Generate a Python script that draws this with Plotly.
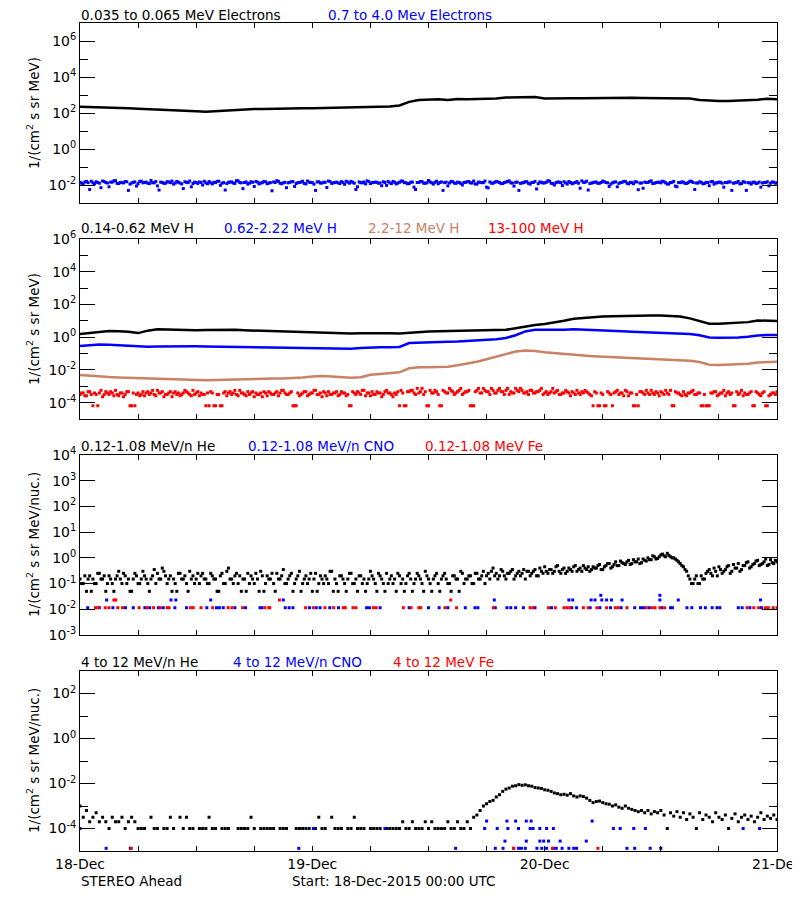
import numpy as np
import pandas as pd
import plotly.graph_objects as go

START = "2015-12-18 00:00"
END = "2015-12-21 00:00"
FONT = "DejaVu Sans"
BLUE = "#0000FF"
RED = "#FF0000"
BROWN = "#C98264"

# ---------------- Panel 1: electrons ----------------
# hourly log10 flux, 0.035-0.065 MeV electrons
e_low_log = [2.35, 2.34, 2.33, 2.32, 2.30, 2.26, 2.23, 2.21, 2.20, 2.20,
             2.18, 2.16, 2.10, 2.07, 2.10, 2.15, 2.18, 2.21, 2.22, 2.22,
             2.24, 2.26, 2.26, 2.27, 2.27, 2.28, 2.30, 2.29, 2.30, 2.31,
             2.32, 2.33, 2.36, 2.42, 2.62, 2.72, 2.74, 2.76, 2.72, 2.78,
             2.77, 2.78, 2.78, 2.80, 2.86, 2.88, 2.90, 2.89, 2.80, 2.82,
             2.81, 2.82, 2.82, 2.83, 2.84, 2.86, 2.86, 2.85, 2.84, 2.83,
             2.84, 2.84, 2.83, 2.80, 2.72, 2.68, 2.66, 2.67, 2.69, 2.70,
             2.74, 2.79, 2.76]
# log10 flux, 0.7-4.0 MeV electrons; "a" on the hour and every 20 min, "b" 10 min later
e_high_log_a = [-1.85, -1.95, -1.80, -2.25, -1.88, -1.82, -1.90, -1.78, -1.86, -2.10, -1.84, -1.76, -1.92, -1.87, -1.81, -2.30, -1.89, -1.83, -1.93, -1.79,
                -1.86, -1.90, -1.75, -1.88, -2.05, -1.84, -1.91, -1.82, -1.87, -1.95, -1.80, -1.89, -2.20, -1.85, -1.78, -1.92, -1.86, -1.83, -2.00, -1.88,
                -1.81, -1.94, -1.87, -1.79, -1.90, -2.28, -1.85, -1.83, -1.91, -1.77, -1.88, -1.86, -1.95, -1.82, -2.08, -1.84, -1.89, -1.80, -1.93, -1.87,
                -1.83, -1.76, -1.90, -1.88, -2.15, -1.85, -1.81, -1.92, -1.86, -1.79, -1.94, -1.84, -1.87, -2.30, -1.82, -1.89, -1.85, -1.78, -1.91, -1.86,
                -1.88, -1.81, -1.96, -1.84, -1.80, -1.90, -2.10, -1.87, -1.83, -1.77, -1.92, -1.86, -1.85, -1.89, -1.82, -2.02, -1.88, -1.80, -1.94, -1.85,
                -1.79, -1.87, -1.92, -1.84, -2.25, -1.86, -1.81, -1.90, -1.75, -1.88, -1.85, -1.93, -1.83, -1.87, -2.05, -1.80, -1.89, -1.84, -1.91, -1.86,
                -1.82, -1.88, -1.78, -1.95, -1.85, -1.87, -2.12, -1.83, -1.90, -1.80, -1.86, -1.92, -1.84, -1.77, -1.89, -1.85, -2.30, -1.88, -1.82, -1.91,
                -1.86, -1.80, -1.93, -1.85, -1.88, -1.76, -1.90, -2.00, -1.84, -1.87, -1.82, -1.95, -1.86, -1.89, -1.81, -2.18, -1.85, -1.79, -1.92, -1.87,
                -1.84, -1.90, -1.78, -1.86, -2.08, -1.88, -1.83, -1.91, -1.85, -1.80, -1.94, -1.87, -1.82, -2.26, -1.89, -1.84, -1.86, -1.77, -1.90, -1.85,
                -1.88, -1.82, -1.95, -1.86, -1.80, -2.10, -1.87, -1.84, -1.91, -1.79, -1.86, -1.89, -1.83, -1.93, -1.85, -2.04, -1.81, -1.88, -1.84, -1.90,
                -1.86, -1.83, -2.30, -1.88, -1.80, -1.92, -1.85, -1.87, -1.95, -1.84, -1.89, -2.12, -1.86, -1.82, -1.90, -1.85, -1.88]
e_high_log_b = [-1.90, -1.83, -1.87, -1.79, -1.93, -1.86, -2.15, -1.81, -1.89, -1.84, -1.77, -1.91, -1.86, -1.88, -1.82, -1.95, -1.85, -2.06, -1.80, -1.88,
                -1.84, -1.92, -1.87, -1.81, -2.28, -1.86, -1.90, -1.83, -1.78, -1.89, -1.85, -1.94, -1.82, -1.87, -2.10, -1.84, -1.91, -1.86, -1.79, -1.93,
                -1.88, -1.85, -1.80, -2.02, -1.87, -1.92, -1.84, -1.89, -1.76, -1.86, -2.20, -1.83, -1.90, -1.85, -1.81, -1.94, -1.87, -1.82, -1.89, -2.32,
                -1.86, -1.80, -1.93, -1.85, -1.88, -1.82, -2.08, -1.87, -1.84, -1.91, -1.78, -1.86, -1.95, -1.83, -1.89, -1.85, -2.14, -1.81, -1.88, -1.84,
                -1.92, -1.86, -1.79, -1.90, -1.85, -2.25, -1.83, -1.88, -1.94, -1.81, -1.87, -1.84, -1.90, -2.04, -1.86, -1.80, -1.92, -1.85, -1.89, -1.78,
                -1.87, -1.93, -1.84, -2.12, -1.86, -1.81, -1.90, -1.88, -1.83, -1.95, -1.79, -1.86, -2.30, -1.84, -1.89, -1.82, -1.91, -1.86, -2.00, -1.85,
                -1.81, -1.89, -1.94, -1.84, -1.87, -1.78, -2.16, -1.90, -1.85, -1.83, -1.92, -1.86, -1.80, -1.88, -2.06, -1.84, -1.91, -1.87, -1.82, -1.95,
                -1.86, -2.22, -1.83, -1.89, -1.85, -1.79, -1.92, -1.87, -1.84, -2.03, -1.88, -1.81, -1.93, -1.86, -1.90, -1.77, -1.85, -2.28, -1.89, -1.84,
                -1.91, -1.86, -1.82, -1.88, -1.95, -1.84, -2.10, -1.87, -1.80, -1.90, -1.85, -1.93, -1.83, -1.89, -2.18, -1.86, -1.81, -1.92, -1.87, -1.84,
                -1.79, -1.88, -1.94, -1.85, -2.06, -1.86, -1.83, -1.91, -1.87, -1.80, -2.25, -1.89, -1.84, -1.92, -1.86, -1.82, -1.95, -1.88, -1.85, -2.12,
                -1.87, -1.83, -1.90, -1.86, -1.94, -1.81, -2.30, -1.88, -1.85, -1.92, -1.84, -1.89, -1.86, -2.05, -1.83, -1.90]

# ---------------- Panel 2: protons (hourly log10) ----------------
h1_log = [0.19, 0.25, 0.32, 0.38, 0.36, 0.33, 0.25, 0.40, 0.48, 0.46,
          0.45, 0.44, 0.43, 0.44, 0.45, 0.46, 0.45, 0.42, 0.40, 0.38,
          0.36, 0.33, 0.31, 0.30, 0.28, 0.27, 0.25, 0.24, 0.23, 0.24,
          0.25, 0.25, 0.24, 0.23, 0.28, 0.33, 0.35, 0.36, 0.37, 0.38,
          0.38, 0.39, 0.41, 0.43, 0.45, 0.55, 0.66, 0.75, 0.80, 0.88,
          1.00, 1.12, 1.18, 1.23, 1.26, 1.28, 1.30, 1.31, 1.31, 1.32,
          1.32, 1.31, 1.27, 1.15, 1.00, 0.82, 0.82, 0.86, 0.88, 0.92,
          1.02, 1.02, 0.99]
h2_log = [-0.54, -0.50, -0.44, -0.46, -0.50, -0.53, -0.56, -0.58, -0.57, -0.56,
          -0.56, -0.56, -0.56, -0.57, -0.58, -0.60, -0.61, -0.62, -0.62, -0.63,
          -0.64, -0.66, -0.67, -0.68, -0.69, -0.70, -0.71, -0.72, -0.70, -0.66,
          -0.62, -0.62, -0.62, -0.60, -0.36, -0.33, -0.31, -0.30, -0.28, -0.27,
          -0.24, -0.20, -0.16, -0.12, -0.05, 0.12, 0.35, 0.45, 0.45, 0.44,
          0.46, 0.49, 0.47, 0.45, 0.44, 0.40, 0.36, 0.33, 0.31, 0.29,
          0.27, 0.26, 0.24, 0.20, 0.12, -0.02, -0.03, -0.03, -0.02, 0.02,
          0.10, 0.13, 0.13]
h3_log = [-2.31, -2.36, -2.42, -2.44, -2.47, -2.49, -2.50, -2.52, -2.53, -2.55,
          -2.58, -2.61, -2.64, -2.63, -2.61, -2.59, -2.57, -2.56, -2.55, -2.54,
          -2.53, -2.52, -2.50, -2.46, -2.41, -2.37, -2.40, -2.44, -2.48, -2.45,
          -2.30, -2.25, -2.20, -2.15, -1.90, -1.84, -1.84, -1.83, -1.80, -1.72,
          -1.62, -1.50, -1.35, -1.18, -1.02, -0.88, -0.82, -0.84, -0.92, -0.98,
          -1.03, -1.08, -1.12, -1.16, -1.19, -1.22, -1.25, -1.28, -1.31, -1.34,
          -1.36, -1.38, -1.41, -1.44, -1.52, -1.68, -1.70, -1.68, -1.66, -1.62,
          -1.55, -1.51, -1.50]
# log10 flux, 13-100 MeV H ("a" every 20 min, "b" 10 min later)
h4_log_a = [-3.50, -3.41, -3.58, -3.33, -4.19, -3.50, -3.41, -3.64, -3.33, -3.50, -3.41, -3.25, -3.58, -3.41, -3.50, -3.33, -4.19, -4.19, -3.41, -3.50,
            -3.58, -3.33, -3.41, -3.50, -3.25, -3.41, -3.64, -3.50, -3.33, -3.41, -3.50, -3.58, -3.41, -3.33, -3.50, -3.25, -3.41, -3.58, -3.50, -4.19,
            -4.19, -3.41, -4.19, -3.50, -4.19, -3.33, -3.41, -3.50, -3.25, -3.58, -3.41, -3.50, -3.33, -3.41, -3.64, -3.50, -3.41, -3.33, -3.58, -3.41,
            -3.50, -3.33, -3.41, -3.25, -3.50, -3.41, -4.19, -4.19, -3.58, -3.41, -3.33, -3.50, -3.41, -3.25, -3.50, -3.64, -3.41, -3.33, -3.50, -3.41,
            -3.58, -3.33, -3.41, -3.50, -4.19, -3.41, -3.33, -3.50, -3.25, -3.41, -3.58, -3.50, -3.33, -3.41, -3.50, -3.25, -3.41, -3.64, -3.50, -4.19,
            -3.41, -4.19, -3.33, -3.25, -3.50, -3.41, -3.13, -3.33, -4.19, -3.41, -3.25, -3.50, -4.19, -3.33, -3.41, -3.25, -3.50, -3.33, -3.13, -3.41,
            -3.33, -4.19, -4.19, -3.25, -3.41, -3.13, -3.33, -3.50, -3.25, -3.41, -3.13, -3.33, -3.25, -3.50, -3.41, -3.13, -3.33, -3.25, -3.41, -3.50,
            -3.25, -3.41, -3.33, -3.13, -3.41, -3.50, -3.33, -3.41, -3.25, -3.50, -3.41, -3.33, -3.58, -3.41, -3.25, -3.50, -3.41, -3.33, -3.50, -4.19,
            -3.41, -4.19, -3.50, -4.19, -3.41, -4.19, -3.33, -3.50, -3.41, -3.25, -3.58, -3.41, -4.19, -4.19, -3.33, -3.50, -3.41, -3.25, -3.50, -3.41,
            -3.33, -3.50, -3.41, -3.25, -4.19, -3.41, -3.50, -3.33, -3.58, -3.41, -3.25, -3.50, -3.41, -4.19, -4.19, -4.19, -3.41, -3.33, -3.50, -3.41,
            -3.58, -3.33, -3.41, -4.19, -3.50, -3.25, -3.41, -3.50, -3.33, -4.19, -3.41, -3.58, -3.33, -4.19, -3.50, -3.41, -3.33]
h4_log_b = [-3.41, -3.58, -3.33, -3.50, -3.41, -4.19, -3.25, -3.50, -3.41, -3.33, -3.58, -3.50, -3.41, -3.64, -3.33, -4.19, -3.41, -3.50, -3.58, -3.33,
            -3.41, -3.50, -3.25, -3.58, -3.41, -3.33, -3.50, -3.41, -3.64, -3.33, -3.41, -3.50, -3.25, -3.41, -3.58, -3.50, -3.33, -3.41, -3.50, -3.41,
            -3.33, -4.19, -3.50, -4.19, -3.41, -3.58, -3.33, -3.41, -3.50, -3.25, -3.41, -3.58, -3.50, -3.33, -3.41, -3.50, -3.64, -3.41, -3.33, -3.50,
            -3.41, -3.58, -3.25, -3.41, -3.50, -3.33, -4.19, -3.41, -3.50, -3.33, -3.58, -3.41, -3.25, -3.50, -3.41, -3.33, -3.58, -3.50, -3.41, -3.33,
            -3.50, -3.41, -3.58, -4.19, -3.33, -3.50, -3.41, -3.25, -3.58, -3.41, -3.33, -3.50, -3.41, -3.64, -3.33, -3.41, -3.50, -3.41, -3.33, -3.25,
            -4.19, -3.33, -3.25, -3.41, -3.13, -3.33, -3.50, -4.19, -3.25, -3.41, -3.33, -4.19, -3.25, -3.41, -3.13, -3.33, -3.41, -3.25, -3.50, -3.33,
            -3.25, -4.19, -3.33, -3.13, -3.41, -3.25, -3.33, -3.13, -3.41, -3.25, -3.33, -3.50, -3.13, -3.33, -3.41, -3.25, -3.13, -3.41, -3.33, -3.25,
            -3.41, -3.33, -3.25, -3.50, -3.33, -3.41, -3.13, -3.33, -3.50, -3.41, -3.25, -3.41, -3.33, -3.50, -3.41, -3.33, -3.25, -3.41, -3.58, -3.33,
            -4.19, -3.41, -4.19, -3.33, -3.50, -3.41, -3.25, -3.41, -3.58, -3.33, -3.41, -4.19, -3.50, -3.33, -3.41, -3.25, -3.50, -3.41, -3.33, -3.58,
            -3.41, -3.25, -3.50, -4.19, -3.33, -3.41, -3.58, -3.50, -3.41, -3.33, -3.50, -3.41, -4.19, -3.50, -4.19, -3.41, -3.33, -3.58, -3.41, -3.25,
            -3.41, -3.50, -4.19, -3.33, -3.41, -3.58, -3.50, -3.41, -4.19, -3.33, -3.50, -3.41, -4.19, -3.58, -3.41, -3.50]

# ---------------- Panel 3: 0.12-1.08 MeV/n ----------------
he_low_val_a = [0.15, 0.1, 0.05, 0.2, 0.15, 0.1, 0.25, 0.15, 0.05, 0.2, 0.1, 0.15, 0.3, 0.1, 0.2, 0.15, 0.05, 0.25, 0.1, 0.15,
                0.2, 0.1, 0.15, 0.35, 0.25, 0.15, 0.3, 0.1, 0.2, 0.15, 0.05, 0.25, 0.15, 0.1, 0.3, 0.2, 0.15, 0.1, 0.25, 0.15,
                0.1, 0.2, 0.15, 0.05, 0.25, 0.1, 0.4, 0.15, 0.2, 0.1, 0.05, 0.15, 0.25, 0.2, 0.1, 0.15, 0.3, 0.05, 0.2, 0.15,
                0.1, 0.25, 0.15, 0.35, 0.1, 0.2, 0.05, 0.15, 0.3, 0.1, 0.2, 0.15, 0.05, 0.25, 0.1, 0.15, 0.2, 0.1, 0.3, 0.15,
                0.05, 0.2, 0.1, 0.15, 0.25, 0.1, 0.05, 0.2, 0.15, 0.1, 0.3, 0.15, 0.05, 0.2, 0.1, 0.25, 0.15, 0.1, 0.05, 0.2,
                0.15, 0.1, 0.25, 0.05, 0.15, 0.2, 0.1, 0.3, 0.15, 0.05, 0.2, 0.1, 0.15, 0.25, 0.1, 0.05, 0.2, 0.15, 0.3, 0.1,
                0.15, 0.2, 0.1, 0.25, 0.15, 0.3, 0.2, 0.15, 0.4, 0.25, 0.2, 0.3, 0.15, 0.25, 0.35, 0.2, 0.3, 0.25, 0.15, 0.3,
                0.25, 0.35, 0.2, 0.3, 0.45, 0.25, 0.35, 0.3, 0.5, 0.25, 0.4, 0.3, 0.35, 0.45, 0.3, 0.4, 0.5, 0.35, 0.3, 0.45,
                0.4, 0.55, 0.35, 0.5, 0.6, 0.45, 0.7, 0.5, 0.65, 0.55, 0.8, 0.6, 0.7, 0.9, 0.65, 0.8, 1.0, 0.85, 1.1, 0.95,
                1.3, 1.2, 1.5, 1.1, 1.0, 0.8, 0.6, 0.45, 0.3, 0.15, 0.1, 0.2, 0.1, 0.15, 0.25, 0.35, 0.2, 0.3, 0.45, 0.25,
                0.35, 0.5, 0.3, 0.4, 0.6, 0.35, 0.5, 0.7, 0.45, 0.6, 0.8, 0.55, 0.7, 0.5, 0.85, 0.6, 0.7]
he_low_val_b = [0.1, 0.2, 0.15, 0.05, 0.1, 0.25, 0.15, 0.2, 0.1, 0.15, 0.05, 0.2, 0.15, 0.25, 0.1, 0.05, 0.15, 0.2, 0.1, 0.3,
                0.15, 0.05, 0.2, 0.1, 0.15, 0.4, 0.2, 0.15, 0.05, 0.1, 0.25, 0.15, 0.2, 0.05, 0.15, 0.1, 0.25, 0.2, 0.15, 0.1,
                0.25, 0.15, 0.05, 0.2, 0.1, 0.3, 0.15, 0.1, 0.25, 0.2, 0.15, 0.05, 0.1, 0.15, 0.25, 0.05, 0.2, 0.1, 0.15, 0.25,
                0.05, 0.15, 0.2, 0.1, 0.15, 0.25, 0.1, 0.2, 0.05, 0.15, 0.1, 0.25, 0.15, 0.05, 0.2, 0.1, 0.15, 0.3, 0.05, 0.1,
                0.2, 0.15, 0.05, 0.25, 0.1, 0.15, 0.2, 0.1, 0.05, 0.15, 0.2, 0.1, 0.25, 0.15, 0.05, 0.1, 0.2, 0.15, 0.25, 0.1,
                0.05, 0.2, 0.15, 0.1, 0.25, 0.15, 0.05, 0.2, 0.1, 0.15, 0.25, 0.05, 0.2, 0.15, 0.1, 0.2, 0.15, 0.05, 0.25, 0.15,
                0.2, 0.1, 0.25, 0.15, 0.2, 0.1, 0.25, 0.3, 0.2, 0.15, 0.35, 0.2, 0.25, 0.3, 0.15, 0.25, 0.2, 0.35, 0.3, 0.2,
                0.3, 0.2, 0.4, 0.25, 0.3, 0.35, 0.25, 0.45, 0.3, 0.35, 0.25, 0.4, 0.3, 0.5, 0.35, 0.3, 0.4, 0.45, 0.35, 0.4,
                0.5, 0.35, 0.45, 0.6, 0.4, 0.55, 0.5, 0.75, 0.6, 0.7, 0.55, 0.85, 0.7, 0.6, 0.9, 0.75, 0.85, 1.2, 0.9, 1.1,
                1.4, 1.1, 1.25, 1.0, 0.9, 0.7, 0.5, 0.35, 0.2, 0.1, 0.15, 0.1, 0.2, 0.15, 0.3, 0.25, 0.4, 0.2, 0.35, 0.3,
                0.45, 0.25, 0.55, 0.4, 0.3, 0.5, 0.65, 0.4, 0.55, 0.75, 0.5, 0.6, 0.9, 0.55, 0.65, 0.8]
# hours after start at which CNO / Fe counts appear, by flux level
cno_low_level = 0.0115
cno_low_hours = [0.8, 2.0, 3.4, 4.7, 5.5, 6.7, 7.2, 8.1, 8.6, 9.8, 11.0, 13.1, 14.1, 14.4, 14.8, 16.0, 17.1, 18.6, 18.8,
                 21.2, 21.6, 22.0, 23.7, 24.4, 24.8, 25.8, 26.7, 29.6, 29.9, 31.0, 34.0, 36.0, 37.1, 38.0, 39.8, 40.8,
                 41.1, 42.9, 44.1, 44.5, 45.0, 45.8, 47.0, 48.7, 50.8, 51.3, 52.7, 53.7, 54.8, 55.9, 57.3, 57.9, 58.2,
                 58.8, 60.1, 61.0, 61.2, 62.7, 63.2, 64.1, 64.6, 65.3, 65.8, 66.1, 68.0, 68.4, 69.2, 70.4]
cno_mid_level = 0.023
cno_mid_hours = [2.75, 9.4, 9.9, 13.5, 21.0, 42.8, 50.5, 50.9, 52.8, 53.2, 53.9, 54.4, 54.9, 56.0, 59.9, 61.8, 70.3]
cno_top_level = 0.035
cno_top_hours = [53.8, 59.9]
fe_low_level = 0.0115
fe_low_hours = [1.6, 1.9, 2.6, 3.0, 3.9, 4.4, 6.1, 6.9, 7.6, 8.3, 9.0, 9.2, 11.4, 11.7, 12.5, 13.7, 15.3, 15.7, 16.8,
                19.1, 19.5, 19.6, 23.3, 24.1, 25.3, 26.2, 27.2, 27.4, 28.2, 28.5, 30.3, 30.6, 33.4, 34.2, 35.0, 35.2,
                37.7, 38.9, 42.7, 46.5, 46.8, 48.4, 49.1, 50.0, 50.3, 50.6, 52.0, 52.5, 53.4, 54.4, 55.3, 55.6, 56.5,
                58.5, 59.1, 59.4, 59.9, 60.4, 68.9, 69.6, 70.1, 70.8, 71.1, 71.6, 72.0]
fe_mid_level = 0.023
fe_mid_hours = [3.5, 3.7, 20.6, 38.3]

# ---------------- Panel 4: 4-12 MeV/n ----------------
he_high_log = [-3.0, -3.5, -3.2, -3.7, -3.5, -3.3, -3.7, -3.5, -3.7, -4.0, -3.5, -3.7, -3.7, -3.5, -4.0, -3.7, -3.5, -3.7, -4.0,
               -4.0, -4.0, None, -3.5, -4.0, -4.0, None, -4.0, -4.0, -3.5, -4.0, None, -3.5, -4.0, -3.5, -4.0, -4.0, None, -4.0, -4.0, -4.0,
               -3.5, -4.0, -4.0, None, -4.0, -4.0, -4.0, None, None, -4.0, -4.0, -4.0, -4.0, -3.5, -4.0, None, -4.0, -4.0, -4.0, -4.0,
               -4.0, None, -4.0, -4.0, -4.0, None, None, -4.0, -4.0, -4.0, -4.0, -4.0, None, -4.0, -3.5, -4.0, -4.0, None, -3.5, -4.0,
               -4.0, -4.0, None, -4.0, -4.0, -3.5, -4.0, -4.0, -4.0, None, -4.0, -4.0, -4.0, -4.0, None, -4.0, -4.0, -4.0, -4.0, -4.0,
               -3.7, -4.0, -4.0, -3.7, -4.0, -4.0, -4.0, -3.7, -4.0, -3.7, -4.0, -4.0, -4.0, -4.0, -3.7, -4.0, -4.0, -3.7, -4.0, -4.0, -3.7, -4.0, -3.5,
               -3.4, -3.2, -3.0, -2.9, -2.8, -2.75, -2.6, -2.5, -2.35, -2.25,
               -2.2, -2.12, -2.1, -2.05, -2.08, -2.06, -2.1, -2.12, -2.18, -2.2,
               -2.22, -2.28, -2.3, -2.35, -2.42, -2.45, -2.5, -2.48, -2.52, -2.45,
               -2.55, -2.6, -2.55, -2.58, -2.65, -2.75, -2.85, -2.8, -2.78, -2.85,
               -2.9, -2.92, -3.0, -2.95, -3.05, -3.1, -3.0, -3.1, -3.15, -3.2,
               -3.25, -3.2, -3.3, -3.2, -3.35, -3.25, -3.3, -3.2, -3.4, -4.0,
               -3.3, -3.45, -3.25, -3.5, -3.3, -3.6, -3.35, -3.5, -4.0, -3.3,
               -3.6, -3.4, -3.5, -3.7, -3.3, -3.5, -3.6, -3.4, -4.0, -3.55,
               -3.35, -3.7, -3.5, -3.4, -3.6, -3.45, -3.7, -3.5, -3.3, -3.6,
               -3.45, -3.55, -3.4, -3.6]
cno_high_hours = [0.0, 2.7, 5.2, 22.6, 24.1, 31.5, 38.8, 41.8, 42.0, 42.9, 43.1, 43.7, 43.9, 44.1, 44.2, 44.8, 45.0, 45.3, 45.3,
                  45.6, 46.0, 46.1, 46.1, 46.5, 46.6, 46.8, 47.2, 47.5, 47.5, 47.7, 47.9, 48.2, 48.2, 48.4, 48.9, 48.9,
                  49.2, 49.6, 49.8, 50.5, 51.0, 51.3, 52.3, 52.9, 55.1, 55.8, 56.5, 57.2, 57.3, 58.4, 58.9, 60.0, 68.5, 70.2]
cno_high_log = [-4.0, -4.88, -4.88, -4.88, -4.0, -4.0, -4.88, -4.0, -3.67, -4.88, -4.0, -4.88, -4.56, -3.67, -4.0, -4.88, -3.67, -4.0, -4.88,
                -4.88, -4.88, -3.67, -4.56, -4.0, -3.67, -4.0, -4.88, -4.0, -4.56, -4.88, -4.56, -4.0, -4.88, -4.56, -4.0, -4.88,
                -4.88, -4.56, -4.88, -4.88, -4.88, -4.88, -4.56, -3.67, -4.0, -4.0, -4.88, -4.0, -4.88, -4.0, -4.88, -4.88, -4.0, -4.0]
fe_high_hours = [5.3, 44.8, 48.8, 53.5]
fe_high_log = [-4.88, -4.88, -4.88, -4.88]

# ---------------- helpers ----------------
t0 = pd.Timestamp(START)


def hourly(vals):
    return pd.date_range(START, periods=len(vals), freq="h")


def every20(vals, offset_min=0):
    return pd.date_range(t0 + pd.Timedelta(minutes=offset_min), periods=len(vals), freq="20min")


def at_hours(hours):
    return t0 + pd.to_timedelta(np.array(hours, dtype=float), unit="h")


def pow10(vals):
    return [None if v is None else 10.0 ** v for v in vals]


fig = go.Figure()


def line(x, y, color, ax):
    fig.add_trace(go.Scatter(x=x, y=y, mode="lines", line=dict(color=color, width=2.5),
                             xaxis="x" + ax, yaxis="y" + ax, hoverinfo="skip"))


def dots(x, y, color, ax, size=3):
    fig.add_trace(go.Scatter(x=x, y=y, mode="markers",
                             marker=dict(color=color, size=size, symbol="square", line=dict(width=0)),
                             xaxis="x" + ax, yaxis="y" + ax, hoverinfo="skip"))


# panel 1
line(hourly(e_low_log), pow10(e_low_log), "black", "")
dots(every20(e_high_log_a), pow10(e_high_log_a), BLUE, "")
dots(every20(e_high_log_b, 10), pow10(e_high_log_b), BLUE, "")
# panel 2
line(hourly(h1_log), pow10(h1_log), "black", "2")
line(hourly(h2_log), pow10(h2_log), BLUE, "2")
line(hourly(h3_log), pow10(h3_log), BROWN, "2")
dots(every20(h4_log_a), pow10(h4_log_a), RED, "2")
dots(every20(h4_log_b, 10), pow10(h4_log_b), RED, "2")
# panel 3
dots(every20(he_low_val_a), he_low_val_a, "black", "3")
dots(every20(he_low_val_b, 10), he_low_val_b, "black", "3")
dots(at_hours(cno_low_hours), [cno_low_level] * len(cno_low_hours), BLUE, "3")
dots(at_hours(fe_low_hours), [fe_low_level] * len(fe_low_hours), RED, "3")
dots(at_hours(cno_mid_hours), [cno_mid_level] * len(cno_mid_hours), BLUE, "3")
dots(at_hours(cno_top_hours), [cno_top_level] * len(cno_top_hours), BLUE, "3")
dots(at_hours(fe_mid_hours), [fe_mid_level] * len(fe_mid_hours), RED, "3")
# panel 4
dots(every20(he_high_log), pow10(he_high_log), "black", "4")
dots(at_hours(cno_high_hours), pow10(cno_high_log), BLUE, "4")
dots(at_hours(fe_high_hours), pow10(fe_high_log), RED, "4")

# ---------------- layout ----------------
# The page body adds an 8 px margin, so the figure is 792x892 and
# target screen positions are shifted by that margin.
PAD = 8
W, H = 800 - PAD, 900 - PAD


def px_x(x):
    return (x - PAD) / W


def px_y(y):
    return 1 - (y - PAD) / H


XL, XR = 80, 777
panels = [(23, 203, [-3, 7], [-2, 0, 2, 4, 6], [-1, 1, 3, 5]),
          (239, 419, [-5, 6], [-4, -2, 0, 2, 4, 6], [-5, -3, -1, 1, 3, 5]),
          (455, 635, [-3, 4], [-3, -2, -1, 0, 1, 2, 3, 4], []),
          (671, 851, [-5, 3], [-4, -2, 0, 2], [-5, -3, -1, 1])]

day_ticks = pd.date_range(START, END, freq="D")
six_hour_ticks = pd.date_range(START, END, freq="6h")

layout = dict(width=W, height=H, margin=dict(l=0, r=0, t=0, b=0),
              paper_bgcolor="white", plot_bgcolor="white", showlegend=False,
              font=dict(family=FONT, size=13, color="black"))

for i, (top, bot, rng, major, minor) in enumerate(panels):
    suf = "" if i == 0 else str(i + 1)
    last = i == len(panels) - 1
    layout["xaxis" + suf] = dict(
        type="date", domain=[px_x(XL), px_x(XR)], range=[START, END], anchor="y" + suf,
        tickmode="array", tickvals=list(day_ticks),
        ticktext=[d.strftime("%d-%b") for d in day_ticks],
        showticklabels=last, ticklabeloverflow="allow",
        ticks="inside", ticklen=5, tickwidth=1, tickcolor="black",
        minor=dict(tickmode="array", tickvals=list(six_hour_ticks), ticks="inside", ticklen=5,
                   tickwidth=1, tickcolor="black", showgrid=False),
        showline=True, linecolor="black", linewidth=1, mirror="allticks",
        showgrid=False, zeroline=False, automargin=False,
        tickfont=dict(family=FONT, size=14, color="black"))
    layout["yaxis" + suf] = dict(
        type="log", domain=[px_y(bot), px_y(top)], range=rng, anchor="x" + suf,
        tickmode="array", tickvals=[10.0 ** k for k in major],
        ticktext=["10<sup>%d</sup>" % k for k in major],
        ticks="inside", ticklen=15, tickwidth=1, tickcolor="black",
        minor=dict(tickmode="array", tickvals=[10.0 ** k for k in minor], ticks="inside",
                   ticklen=8, tickwidth=1, tickcolor="black", showgrid=False),
        showline=True, linecolor="black", linewidth=1, mirror="allticks",
        showgrid=False, zeroline=False, automargin=False,
        tickfont=dict(family=FONT, size=14, color="black"))

fig.update_layout(**layout)

titles = [
    (14.5, [("0.035 to 0.065 MeV Electrons", "black", 80), ("0.7 to 4.0 Mev Electrons", BLUE, 327)]),
    (228.5, [("0.14-0.62 MeV H", "black", 80), ("0.62-2.22 MeV H", BLUE, 223),
             ("2.2-12 MeV H", BROWN, 367), ("13-100 MeV H", RED, 487)]),
    (446, [("0.12-1.08 MeV/n He", "black", 80), ("0.12-1.08 MeV/n CNO", BLUE, 247),
           ("0.12-1.08 MeV Fe", RED, 424)]),
    (661.5, [("4 to 12 MeV/n He", "black", 80), ("4 to 12 MeV/n CNO", BLUE, 232),
             ("4 to 12 MeV Fe", RED, 392)]),
    (880.5, [("STEREO Ahead", "black", 80), ("Start: 18-Dec-2015 00:00 UTC", "black", 291)]),
]
for ypx, items in titles:
    for text, color, xpx in items:
        fig.add_annotation(text=text, x=px_x(xpx), y=px_y(ypx), xref="paper", yref="paper",
                           xanchor="left", yanchor="middle", showarrow=False, borderpad=0,
                           font=dict(family=FONT, size=13.5, color=color))

ylabels = [(113, "1/(cm<sup>2</sup> s sr MeV)"), (329, "1/(cm<sup>2</sup> s sr MeV)"),
           (545, "1/(cm<sup>2</sup> s sr MeV/nuc.)"), (761, "1/(cm<sup>2</sup> s sr MeV/nuc.)")]
for ypx, text in ylabels:
    fig.add_annotation(text=text, x=px_x(33), y=px_y(ypx), xref="paper", yref="paper",
                       xanchor="center", yanchor="middle", showarrow=False, textangle=-90,
                       font=dict(family=FONT, size=13.5, color="black"))

fig.write_html("out.html")
